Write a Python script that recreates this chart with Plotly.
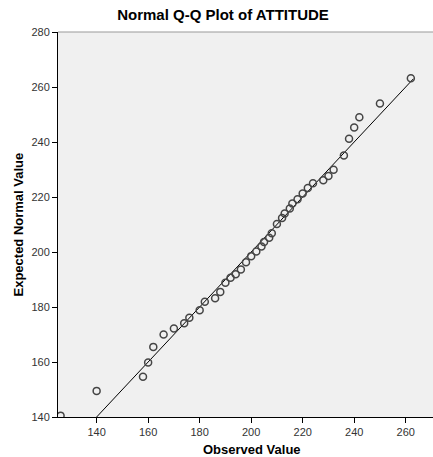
import plotly.graph_objects as go

observed = [126, 140, 158, 160, 162, 166, 170, 174, 176, 180, 182, 186, 188, 190,
            192, 194, 196, 198, 200, 202, 204, 205, 207, 208, 210, 212, 213, 215,
            216, 218, 220, 222, 224, 228, 230, 232, 236, 238, 240, 242, 250, 262]
expected = [140.5, 149.5, 154.6, 159.8, 165.5, 170.0, 172.2, 174.1, 176.1, 178.8,
            181.9, 183.2, 185.5, 188.8, 190.6, 191.9, 193.6, 196.3, 198.5, 200.2,
            202.0, 203.6, 205.2, 206.8, 210.2, 212.4, 214.0, 215.8, 217.6, 219.2,
            221.3, 223.3, 225.0, 226.1, 227.6, 229.9, 235.1, 241.2, 245.3, 249.0,
            254.0, 263.2]
ref_line = [140, 263]
x_ticks = [140, 160, 180, 200, 220, 240, 260]
y_ticks = [140, 160, 180, 200, 220, 240, 260, 280]

fig = go.Figure()
fig.add_trace(go.Scatter(x=ref_line, y=ref_line, mode="lines",
                         line=dict(color="black", width=1), hoverinfo="skip"))
fig.add_trace(go.Scatter(x=observed, y=expected, mode="markers",
                         marker=dict(symbol="circle-open", size=7, color="#454545",
                                     line=dict(width=1.5, color="#454545"))))

font_family = "Liberation Sans, Arial, sans-serif"
fig.update_layout(
    width=433, height=457,
    margin=dict(l=58, r=0, t=32, b=40, autoexpand=False),
    paper_bgcolor="white", plot_bgcolor="#f0f0f0",
    showlegend=False,
    font=dict(family=font_family, color="#333333", size=11),
    title=dict(text="<b>Normal Q-Q Plot of ATTITUDE</b>", x=0.44, xref="paper",
               xanchor="center", y=1, yref="container", yanchor="top", pad=dict(t=9),
               font=dict(size=15, color="black", family=font_family)),
)
fig.update_xaxes(range=[125, 270.6], tickvals=x_ticks, showgrid=False, zeroline=False,
                 automargin=False,
                 showline=True, linecolor="black", linewidth=1,
                 ticks="outside", ticklen=5, tickcolor="black",
                 tickfont=dict(size=11, color="#333333"))
fig.update_yaxes(range=[140, 280], tickvals=y_ticks, showgrid=False, zeroline=False,
                 automargin=False,
                 showline=True, linecolor="black", linewidth=1,
                 ticks="outside", ticklen=5, tickcolor="black",
                 tickfont=dict(size=11, color="#333333"))
fig.add_shape(type="line", xref="paper", yref="paper", x0=0, x1=1, y0=1, y1=1,
              line=dict(color="#999999", width=1))
fig.add_annotation(text="<b>Observed Value</b>", xref="paper", yref="paper",
                   x=(251.5 - 58) / 375, y=-(449 - 417) / 385, xanchor="center",
                   yanchor="middle", showarrow=False, borderpad=0,
                   font=dict(size=13, color="black", family=font_family))
fig.add_annotation(text="<b>Expected Normal Value</b>", xref="paper", yref="paper",
                   x=-(58 - 18) / 375, y=0.5, xanchor="center", yanchor="middle",
                   textangle=-90, showarrow=False, borderpad=0,
                   font=dict(size=13, color="black", family=font_family))

fig.write_html("out.html", config={"displayModeBar": False},
               post_script="document.body.style.margin='0';")
